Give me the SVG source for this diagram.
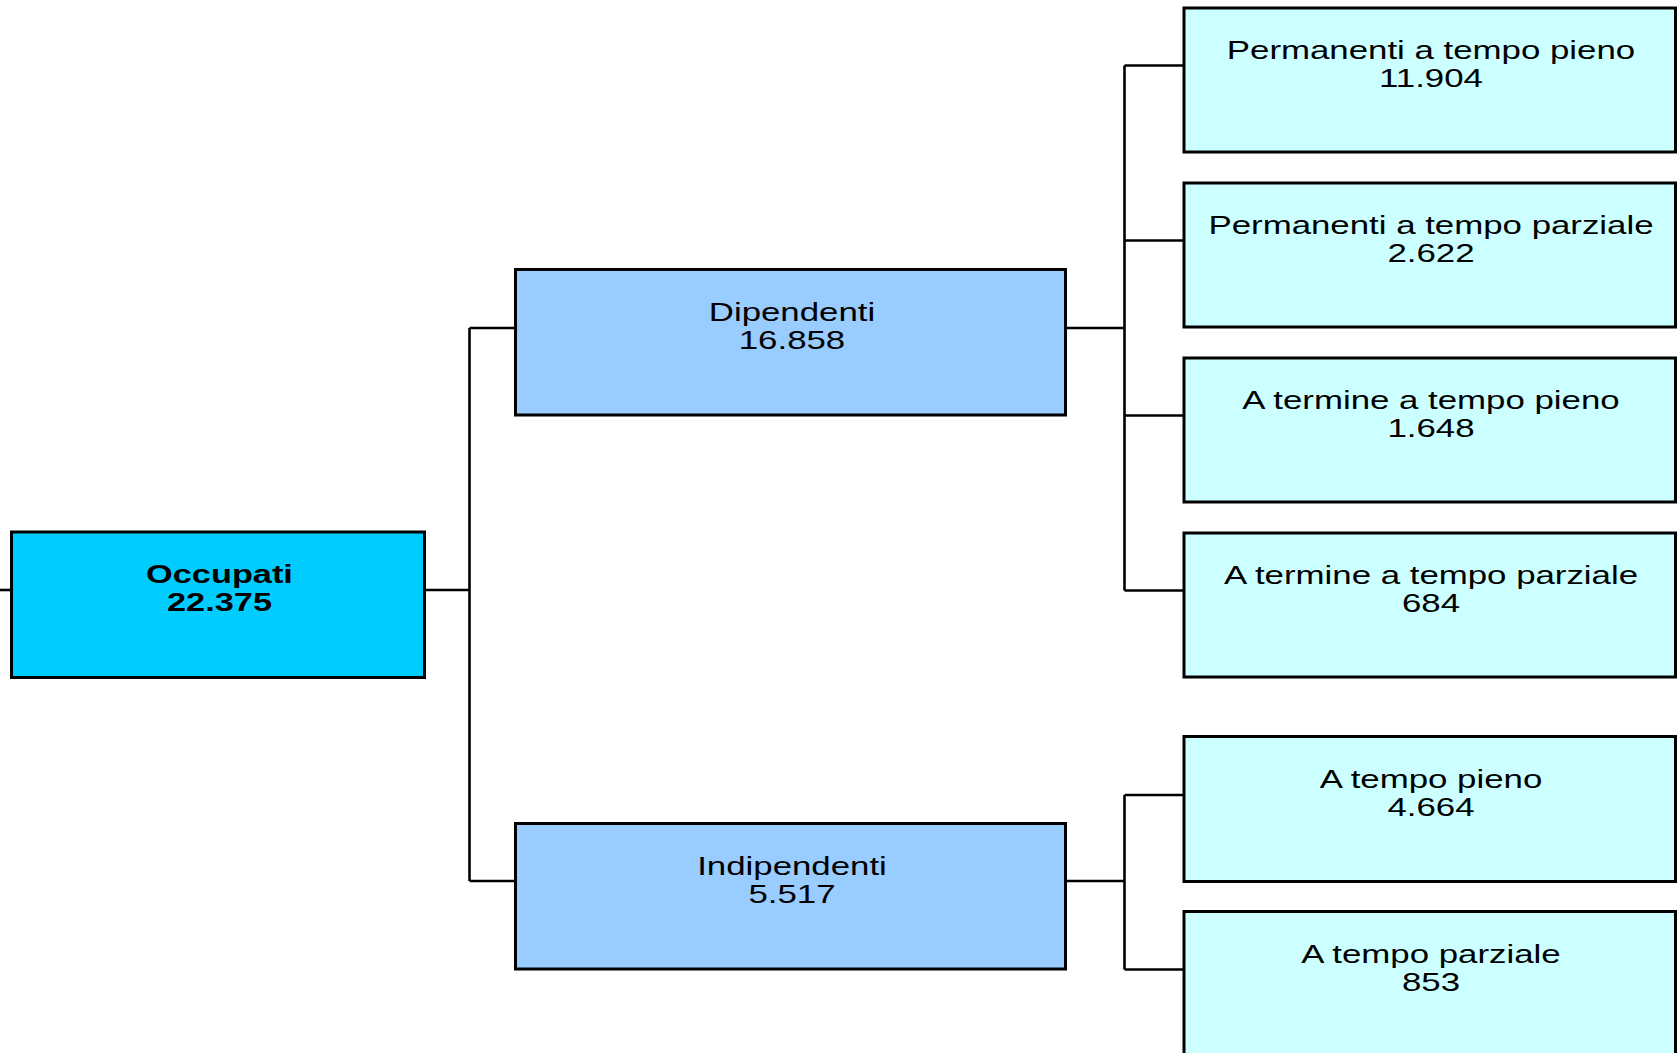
<svg xmlns="http://www.w3.org/2000/svg" width="1678" height="1053" viewBox="0 0 1678 1053">
<style>
  .box { stroke: #000; stroke-width: 3; }
  .root { fill: #00CCFF; }
  .mid { fill: #99CCFF; }
  .leaf { fill: #CCFFFF; }
  .conn { fill: none; stroke: #000; stroke-width: 2.6; }
  text { font-family: "Liberation Sans", Arial, sans-serif; font-size: 26px; fill: #000; text-anchor: middle; }
  .bold { font-weight: bold; }
</style>
<rect width="1678" height="1053" fill="#fff"/>
<g id="connectors">
  <path class="conn" d="M0 590 H11.5"/>
  <path class="conn" d="M424.5 590 H469.5 M469.5 328 V881 M469.5 328 H515.5 M469.5 881 H515.5"/>
  <path class="conn" d="M1065.5 328 H1124.5 M1124.5 65.5 V590.5 M1124.5 65.5 H1184 M1124.5 240.5 H1184 M1124.5 415.5 H1184 M1124.5 590.5 H1184"/>
  <path class="conn" d="M1065.5 881 H1124.5 M1124.5 795 V969.5 M1124.5 795 H1184 M1124.5 969.5 H1184"/>
</g>
<g id="occupati">
  <rect class="box root" x="11.5" y="532" width="413" height="145.5"/>
  <text class="bold" transform="translate(219.5 0) scale(1.32 1)"><tspan x="0" y="583.5">Occupati</tspan><tspan x="0" y="611.5">22.375</tspan></text>
</g>
<g id="dipendenti">
  <rect class="box mid" x="515.5" y="269.5" width="550" height="145.5"/>
  <text transform="translate(792 0) scale(1.34 1)"><tspan x="0" y="321">Dipendenti</tspan><tspan x="0" y="349">16.858</tspan></text>
</g>
<g id="indipendenti">
  <rect class="box mid" x="515.5" y="823.5" width="550" height="145.5"/>
  <text transform="translate(792 0) scale(1.34 1)"><tspan x="0" y="875">Indipendenti</tspan><tspan x="0" y="903">5.517</tspan></text>
</g>
<g id="perm-pieno">
  <rect class="box leaf" x="1184" y="8" width="491.5" height="144"/>
  <text transform="translate(1431 0) scale(1.34 1)"><tspan x="0" y="59.5">Permanenti a tempo pieno</tspan><tspan x="0" y="87.5">11.904</tspan></text>
</g>
<g id="perm-parziale">
  <rect class="box leaf" x="1184" y="183" width="491.5" height="144"/>
  <text transform="translate(1431 0) scale(1.34 1)"><tspan x="0" y="234.5">Permanenti a tempo parziale</tspan><tspan x="0" y="262.5">2.622</tspan></text>
</g>
<g id="term-pieno">
  <rect class="box leaf" x="1184" y="358" width="491.5" height="144"/>
  <text transform="translate(1431 0) scale(1.34 1)"><tspan x="0" y="409.5">A termine a tempo pieno</tspan><tspan x="0" y="437.5">1.648</tspan></text>
</g>
<g id="term-parziale">
  <rect class="box leaf" x="1184" y="533" width="491.5" height="144"/>
  <text transform="translate(1431 0) scale(1.34 1)"><tspan x="0" y="584.5">A termine a tempo parziale</tspan><tspan x="0" y="612.5">684</tspan></text>
</g>
<g id="ind-pieno">
  <rect class="box leaf" x="1184" y="736.5" width="491.5" height="145"/>
  <text transform="translate(1431 0) scale(1.34 1)"><tspan x="0" y="788">A tempo pieno</tspan><tspan x="0" y="816">4.664</tspan></text>
</g>
<g id="ind-parziale">
  <rect class="box leaf" x="1184" y="911.5" width="491.5" height="145"/>
  <text transform="translate(1431 0) scale(1.34 1)"><tspan x="0" y="963">A tempo parziale</tspan><tspan x="0" y="991">853</tspan></text>
</g>
</svg>
